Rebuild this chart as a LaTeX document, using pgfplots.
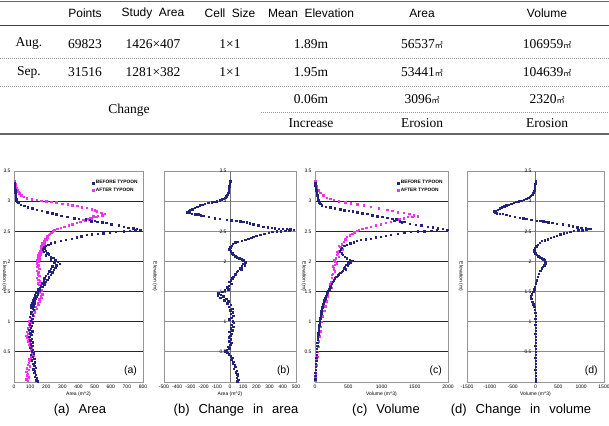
\documentclass[border=0pt]{standalone}
\usepackage{pgfplots}
\pgfplotsset{compat=1.18}
\usepackage{fontspec}
\setmainfont{Liberation Sans}
\newfontfamily\serifx{Liberation Serif}
\newfontfamily\cjk{Noto Sans CJK KR}
\definecolor{navyd}{RGB}{35,35,125}
\definecolor{magp}{RGB}{240,50,240}
\definecolor{framec}{RGB}{150,150,150}
\newcommand{\sqm}{{\cjk\fontsize{8}{8}\selectfont ㎡}}
\newcommand{\hd}{\fontsize{12}{14}\selectfont\spaceskip=6.5pt\relax}
\newcommand{\rw}{\serifx\fontsize{13.5}{15}\selectfont}
\newcommand{\cp}{\fontsize{13}{15}\selectfont\spaceskip=9pt\relax}
\newcommand{\tk}{\fontsize{5}{6}\selectfont}
\pgfplotsset{
  panel/.style={
    scale only axis, anchor=north west,
    ymin=0, ymax=3.5, ytick={0.5,1,1.5,2,2.5,3,3.5},
    axis line style={framec, line width=0.7pt},
    ymajorgrids, grid style={black!85, line width=0.8pt},
    major tick length=0pt,
    tick label style={font=\tk},
    label style={font=\tk},
    /pgf/number format/assume math mode=true,
    /pgf/number format/1000 sep={},
    scaled ticks=false,
    xlabel style={yshift=3pt},
    xticklabel style={yshift=1pt},
    ylabel={Elevation (m)},
    legend cell align=left,
    legend style={draw=none, fill=none, font=\fontsize{4.8}{5.5}\selectfont\bfseries, inner sep=0pt, row sep=-1.5pt},
  },
  bef/.style={only marks, mark=square*, mark size=0.72pt, mark options={draw=navyd, fill=navyd}, color=navyd},
  aft/.style={only marks, mark=square*, mark size=0.72pt, mark options={draw=magp, fill=magp}, color=magp},
}
\begin{document}
\begin{tikzpicture}
\path[use as bounding box] (0pt,0pt) rectangle (609pt,-425pt);
% ---------------- table ----------------
\draw[line width=1.6pt, black!60] (0pt,-1.5pt) -- (609pt,-1.5pt);
\draw[line width=0.8pt, black!75] (0pt,-25pt) -- (609pt,-25pt);
\draw[line width=0.6pt, black!40, dash pattern=on 1pt off 1pt] (0pt,-58pt) -- (609pt,-58pt);
\draw[line width=0.6pt, black!40, dash pattern=on 1pt off 1pt] (0pt,-86pt) -- (609pt,-86pt);
\draw[line width=0.6pt, black!40, dash pattern=on 1pt off 1pt] (261pt,-112pt) -- (609pt,-112pt);
\draw[line width=1.4pt, black!60] (0pt,-134pt) -- (609pt,-134pt);
\node[font=\hd] at (85pt,-13pt) {Points};
\node[font=\hd] at (153pt,-13pt) {Study Area};
\node[font=\hd] at (230pt,-13pt) {Cell Size};
\node[font=\hd] at (311pt,-13pt) {Mean Elevation};
\node[font=\hd] at (422pt,-13pt) {Area};
\node[font=\hd] at (547pt,-13pt) {Volume};
\node[font=\rw] at (29pt,-44pt) {Aug.};
\node[font=\rw] at (85pt,-44pt) {69823};
\node[font=\rw] at (153pt,-44pt) {1426×407};
\node[font=\rw] at (230pt,-44pt) {1×1};
\node[font=\rw] at (311pt,-44pt) {1.89m};
\node[font=\rw] at (422pt,-44pt) {56537\sqm};
\node[font=\rw] at (547pt,-44pt) {106959\sqm};
\node[font=\rw] at (29pt,-72pt) {Sep.};
\node[font=\rw] at (85pt,-72pt) {31516};
\node[font=\rw] at (153pt,-72pt) {1281×382};
\node[font=\rw] at (230pt,-72pt) {1×1};
\node[font=\rw] at (311pt,-72pt) {1.95m};
\node[font=\rw] at (422pt,-72pt) {53441\sqm};
\node[font=\rw] at (547pt,-72pt) {104639\sqm};
\node[font=\rw] at (129pt,-110pt) {Change};
\node[font=\rw] at (311pt,-99pt) {0.06m};
\node[font=\rw] at (422pt,-99pt) {3096\sqm};
\node[font=\rw] at (547pt,-99pt) {2320\sqm};
\node[font=\rw] at (311pt,-123pt) {Increase};
\node[font=\rw] at (422pt,-123pt) {Erosion};
\node[font=\rw] at (547pt,-123pt) {Erosion};
% ---------------- (a) ----------------
\begin{axis}[panel, at={(14pt,-171pt)}, width=129pt, height=211pt,
  xmin=0, xmax=800, xtick={0,100,200,300,400,500,600,700,800},
  xlabel={Area (m\^{}2)},
  ylabel style={at={(rel axis cs:-0.075,0.5)}, anchor=center, rotate=180},
  legend style={at={(0.975,0.965)}, anchor=north east}]
\addlegendimage{bef}\addlegendentry{BEFORE TYPOON}
\addlegendimage{aft}\addlegendentry{AFTER TYPOON}
\addplot[aft, forget plot] coordinates {(3,3.34)(6,3.31)(9,3.28)(12,3.25)(16,3.22)(20,3.19)(26,3.16)(33,3.13)(45,3.10)(60,3.07)(80,3.05)(110,3.03)(140,3.02)(170,3.01)(200,3.00)(230,2.99)(262,2.98)(300,2.96)(332,2.95)(360,2.93)(392,2.92)(420,2.90)(450,2.89)(482,2.87)(500,2.85)(512,2.83)(540,2.81)(562,2.79)(548,2.77)(520,2.76)(490,2.75)(510,2.74)(470,2.73)(482,2.72)(450,2.71)(462,2.70)(430,2.69)(442,2.68)(410,2.66)(388,2.64)(362,2.62)(340,2.60)(312,2.58)(290,2.56)(268,2.54)(250,2.52)(240,2.50)(230,2.48)(220,2.46)(214,2.44)(204,2.42)(210,2.40)(194,2.38)(200,2.36)(186,2.34)(190,2.32)(176,2.30)(186,2.28)(170,2.26)(180,2.24)(164,2.22)(174,2.20)(160,2.18)(170,2.16)(154,2.14)(164,2.12)(150,2.10)(160,2.08)(146,2.06)(156,2.04)(144,2.02)(150,2.00)(140,1.97)(150,1.94)(144,1.91)(156,1.88)(140,1.85)(150,1.82)(146,1.79)(156,1.76)(140,1.73)(150,1.70)(160,1.67)(146,1.64)(156,1.61)(166,1.58)(150,1.55)(170,1.52)(160,1.49)(176,1.46)(166,1.43)(170,1.40)(156,1.37)(160,1.34)(146,1.31)(150,1.28)(134,1.25)(140,1.22)(124,1.19)(130,1.16)(114,1.13)(120,1.10)(104,1.07)(110,1.04)(94,1.01)(100,0.98)(90,0.95)(96,0.92)(84,0.89)(90,0.86)(80,0.83)(86,0.80)(76,0.77)(80,0.74)(90,0.71)(84,0.68)(96,0.65)(90,0.62)(100,0.59)(110,0.56)(104,0.53)(116,0.50)(110,0.47)(120,0.44)(104,0.41)(94,0.38)(100,0.35)(90,0.32)(84,0.29)(96,0.26)(80,0.23)(90,0.20)(76,0.17)(86,0.14)(80,0.11)(90,0.08)(76,0.05)(86,0.02)};
\addplot[bef, forget plot] coordinates {(3,3.30)(4,3.27)(5,3.24)(6,3.21)(8,3.18)(7,3.15)(9,3.12)(12,3.09)(10,3.06)(15,3.03)(18,3.00)(26,2.97)(40,2.94)(62,2.92)(85,2.90)(112,2.88)(140,2.86)(172,2.84)(205,2.82)(238,2.80)(262,2.78)(292,2.76)(330,2.74)(372,2.72)(402,2.71)(445,2.70)(470,2.69)(500,2.68)(478,2.67)(515,2.66)(548,2.65)(572,2.64)(602,2.62)(648,2.60)(682,2.58)(708,2.56)(738,2.55)(762,2.54)(782,2.53)(752,2.52)(718,2.51)(682,2.50)(630,2.49)(592,2.48)(552,2.47)(518,2.46)(482,2.45)(452,2.44)(418,2.42)(388,2.40)(358,2.38)(322,2.36)(288,2.34)(252,2.32)(228,2.30)(212,2.28)(198,2.26)(186,2.24)(192,2.22)(178,2.20)(196,2.18)(184,2.16)(206,2.14)(216,2.12)(198,2.10)(226,2.08)(242,2.06)(228,2.04)(256,2.02)(272,2.00)(248,1.98)(282,1.96)(262,1.94)(238,1.92)(256,1.90)(228,1.88)(246,1.86)(218,1.84)(236,1.82)(208,1.80)(226,1.78)(198,1.76)(216,1.74)(188,1.72)(206,1.70)(184,1.68)(194,1.66)(174,1.64)(186,1.62)(164,1.60)(176,1.58)(158,1.56)(148,1.54)(160,1.52)(144,1.50)(134,1.48)(146,1.46)(128,1.44)(140,1.42)(124,1.40)(136,1.38)(118,1.36)(130,1.34)(114,1.32)(126,1.30)(108,1.28)(120,1.26)(104,1.24)(116,1.22)(122,1.20)(108,1.17)(102,1.14)(116,1.11)(98,1.08)(112,1.05)(104,1.02)(116,0.99)(98,0.96)(110,0.93)(104,0.90)(94,0.87)(112,0.84)(100,0.81)(106,0.78)(94,0.75)(110,0.72)(100,0.69)(116,0.66)(104,0.63)(112,0.60)(100,0.57)(116,0.54)(110,0.51)(122,0.48)(104,0.45)(116,0.42)(126,0.39)(110,0.36)(130,0.33)(120,0.30)(126,0.27)(136,0.24)(120,0.21)(130,0.18)(124,0.15)(136,0.12)(130,0.09)(142,0.06)(134,0.03)(146,0.01)};
\node[anchor=south east, font=\fontsize{10.5}{12}\selectfont] at (rel axis cs:0.98,0.012) {(a)};
\end{axis}
% ---------------- (b) ----------------
\begin{axis}[panel, at={(164pt,-171pt)}, width=132pt, height=211pt,
  xmin=-500, xmax=500, xtick={-500,-400,-300,-200,-100,0,100,200,300,400,500},
  xlabel={Area (m\^{}2)}, grid style={black!45, line width=0.8pt},
  yticklabel style={xshift=66pt},
  ylabel style={at={(rel axis cs:-0.068,0.5)}, anchor=center, rotate=180}]
\draw[black!55, line width=0.6pt] (axis cs:0,0) -- (axis cs:0,3.5);
\addplot[bef] coordinates {(0,3.33)(-3,3.29)(-5,3.25)(-8,3.21)(-10,3.17)(-15,3.14)(-20,3.11)(-30,3.08)(-38,3.06)(-50,3.045)(-63,3.03)(-80,3.015)(-101,3.00)(-120,2.99)(-139,2.98)(-165,2.97)(-190,2.96)(-210,2.945)(-228,2.93)(-248,2.91)(-266,2.89)(-285,2.87)(-304,2.85)(-315,2.835)(-324,2.82)(-305,2.805)(-291,2.79)(-265,2.785)(-240,2.78)(-220,2.77)(-203,2.76)(-160,2.74)(-114,2.72)(-76,2.71)(-25,2.69)(10,2.685)(46,2.68)(76,2.67)(100,2.66)(127,2.65)(150,2.635)(177,2.62)(215,2.60)(253,2.58)(285,2.57)(316,2.56)(340,2.55)(367,2.545)(400,2.54)(430,2.54)(455,2.535)(481,2.53)(450,2.52)(418,2.51)(385,2.505)(354,2.50)(320,2.49)(291,2.48)(260,2.46)(228,2.44)(200,2.425)(177,2.41)(160,2.395)(139,2.38)(115,2.36)(89,2.34)(60,2.33)(38,2.32)(22,2.29)(13,2.26)(0,2.235)(-5,2.21)(-8,2.19)(5,2.17)(15,2.14)(25,2.11)(38,2.09)(51,2.07)(70,2.055)(89,2.04)(100,2.02)(114,2.00)(120,1.98)(101,1.96)(110,1.94)(90,1.92)(76,1.89)(85,1.87)(60,1.85)(51,1.83)(40,1.80)(38,1.78)(25,1.75)(15,1.72)(5,1.69)(-5,1.66)(10,1.63)(-10,1.60)(-20,1.57)(-15,1.54)(-40,1.52)(-60,1.50)(-89,1.47)(-70,1.45)(-95,1.44)(-50,1.42)(-75,1.40)(-30,1.38)(-45,1.36)(-13,1.34)(-20,1.31)(5,1.28)(-10,1.25)(15,1.22)(0,1.19)(20,1.16)(5,1.13)(25,1.10)(10,1.07)(-5,1.04)(20,1.01)(30,0.98)(10,0.95)(25,0.92)(5,0.89)(15,0.86)(-5,0.83)(10,0.80)(0,0.77)(-10,0.74)(5,0.71)(-5,0.68)(10,0.65)(0,0.62)(-15,0.59)(-5,0.56)(-25,0.53)(-38,0.51)(-20,0.49)(-10,0.46)(5,0.43)(15,0.40)(10,0.37)(25,0.34)(20,0.31)(35,0.28)(40,0.25)(30,0.22)(50,0.19)(45,0.16)(55,0.13)(60,0.10)(50,0.07)(63,0.04)(56,0.01)};
\node[anchor=south east, font=\fontsize{10.5}{12}\selectfont] at (rel axis cs:0.98,0.012) {(b)};
\end{axis}
% ---------------- (c) ----------------
\begin{axis}[panel, at={(315pt,-171pt)}, width=133pt, height=211pt,
  xmin=0, xmax=2000, xtick={0,500,1000,1500,2000},
  xlabel={Volume (m\^{}3)},
  ylabel style={at={(rel axis cs:-0.083,0.5)}, anchor=center, rotate=180},
  legend style={at={(0.975,0.965)}, anchor=north east}]
\addlegendimage{bef}\addlegendentry{BEFORE TYPOON}
\addlegendimage{aft}\addlegendentry{AFTER TYPOON}
\addplot[aft, forget plot] coordinates {(0,3.34)(8,3.30)(15,3.26)(25,3.22)(45,3.18)(76,3.14)(120,3.10)(177,3.06)(230,3.04)(278,3.02)(360,3.00)(455,2.98)(540,2.965)(632,2.95)(730,2.93)(835,2.91)(960,2.885)(1088,2.86)(1160,2.84)(1240,2.82)(1330,2.805)(1417,2.79)(1480,2.77)(1543,2.75)(1460,2.745)(1392,2.74)(1330,2.72)(1265,2.70)(1200,2.68)(1139,2.66)(1060,2.64)(987,2.62)(910,2.60)(835,2.58)(770,2.56)(708,2.54)(660,2.525)(632,2.51)(590,2.485)(557,2.46)(520,2.435)(480,2.41)(455,2.37)(430,2.33)(405,2.285)(360,2.26)(380,2.24)(420,2.20)(355,2.18)(330,2.16)(340,2.14)(329,2.11)(360,2.08)(315,2.05)(290,2.02)(304,2.00)(330,1.97)(295,1.95)(270,1.92)(285,1.90)(278,1.86)(300,1.84)(265,1.80)(250,1.78)(253,1.73)(280,1.70)(240,1.66)(220,1.62)(228,1.59)(250,1.56)(210,1.52)(195,1.46)(187,1.42)(170,1.34)(152,1.26)(135,1.18)(116,1.09)(100,1.00)(86,0.92)(76,0.84)(66,0.76)(58,0.68)(50,0.59)(40,0.50)(32,0.42)(25,0.37)(18,0.28)(12,0.20)(8,0.14)(4,0.08)(1,0.03)};
\addplot[bef, forget plot] coordinates {(0,3.30)(5,3.26)(10,3.22)(15,3.18)(22,3.14)(30,3.10)(40,3.06)(50,3.02)(65,2.98)(80,2.96)(100,2.93)(160,2.91)(228,2.90)(300,2.88)(380,2.87)(440,2.85)(506,2.84)(570,2.83)(632,2.82)(710,2.80)(784,2.79)(860,2.77)(936,2.75)(1010,2.74)(1088,2.73)(1160,2.71)(1220,2.70)(1190,2.68)(1270,2.67)(1340,2.66)(1300,2.65)(1420,2.63)(1518,2.61)(1600,2.60)(1695,2.58)(1770,2.57)(1847,2.55)(1920,2.54)(1989,2.53)(1830,2.52)(1746,2.51)(1640,2.505)(1543,2.50)(1440,2.49)(1341,2.48)(1240,2.46)(1139,2.44)(1060,2.43)(987,2.41)(910,2.40)(835,2.38)(760,2.37)(683,2.36)(630,2.34)(582,2.32)(530,2.30)(480,2.28)(440,2.26)(405,2.23)(390,2.20)(375,2.17)(400,2.14)(420,2.11)(450,2.08)(480,2.05)(520,2.03)(560,2.01)(540,1.99)(500,1.97)(470,1.95)(490,1.93)(450,1.91)(430,1.89)(460,1.87)(420,1.85)(400,1.83)(380,1.81)(360,1.79)(340,1.77)(320,1.75)(300,1.72)(280,1.69)(265,1.66)(250,1.63)(240,1.60)(228,1.57)(215,1.54)(200,1.51)(185,1.48)(172,1.45)(160,1.42)(152,1.39)(140,1.36)(132,1.33)(126,1.30)(118,1.27)(110,1.24)(104,1.21)(96,1.18)(90,1.14)(84,1.10)(78,1.06)(72,1.02)(68,0.98)(62,0.94)(58,0.90)(54,0.86)(50,0.82)(46,0.78)(42,0.74)(40,0.70)(36,0.65)(32,0.60)(28,0.55)(25,0.50)(22,0.45)(18,0.40)(15,0.35)(12,0.30)(10,0.25)(8,0.20)(5,0.15)(3,0.10)(1,0.05)};
\node[anchor=south east, font=\fontsize{10.5}{12}\selectfont] at (rel axis cs:0.98,0.012) {(c)};
\end{axis}
% ---------------- (d) ----------------
\begin{axis}[panel, at={(467pt,-171pt)}, width=137pt, height=211pt,
  xmin=-1500, xmax=1500, xtick={-1500,-1000,-500,0,500,1000,1500},
  xlabel={Volume (m\^{}3)}, grid style={black!45, line width=0.8pt},
  yticklabel style={xshift=68pt},
  ylabel style={at={(rel axis cs:-0.045,0.5)}, anchor=center, rotate=180}]
\draw[black!55, line width=0.6pt] (axis cs:0,0) -- (axis cs:0,3.5);
\addplot[bef] coordinates {(0,3.33)(-5,3.29)(-15,3.25)(-22,3.21)(-30,3.17)(-50,3.14)(-74,3.11)(-100,3.09)(-126,3.07)(-160,3.055)(-200,3.04)(-255,3.025)(-311,3.01)(-365,3.00)(-422,2.99)(-480,2.975)(-533,2.96)(-590,2.945)(-644,2.93)(-690,2.915)(-741,2.90)(-790,2.88)(-830,2.86)(-875,2.845)(-919,2.83)(-880,2.815)(-844,2.80)(-780,2.795)(-719,2.79)(-640,2.775)(-570,2.76)(-460,2.745)(-348,2.73)(-270,2.72)(-200,2.71)(-90,2.695)(22,2.68)(100,2.675)(170,2.67)(230,2.66)(281,2.65)(370,2.64)(467,2.63)(600,2.615)(726,2.60)(820,2.585)(911,2.57)(1000,2.56)(1096,2.55)(1150,2.545)(1207,2.54)(1110,2.53)(1022,2.52)(930,2.515)(837,2.51)(760,2.495)(689,2.48)(615,2.465)(541,2.45)(470,2.43)(393,2.41)(330,2.39)(267,2.37)(200,2.355)(133,2.34)(90,2.31)(44,2.28)(15,2.25)(-15,2.22)(-25,2.195)(-30,2.17)(-5,2.14)(22,2.11)(60,2.09)(96,2.07)(135,2.055)(170,2.04)(200,2.02)(222,2.00)(210,1.97)(193,1.94)(160,1.915)(133,1.89)(100,1.85)(74,1.80)(50,1.75)(22,1.69)(5,1.64)(-15,1.58)(-30,1.54)(-52,1.50)(-80,1.46)(-104,1.42)(-90,1.38)(-74,1.33)(-50,1.29)(-30,1.25)(-15,1.20)(-5,1.15)(0,1.10)(-10,1.05)(5,1.00)(-5,0.95)(0,0.90)(5,0.85)(-5,0.80)(0,0.75)(5,0.70)(0,0.65)(-5,0.60)(0,0.55)(5,0.50)(0,0.45)(-5,0.40)(0,0.35)(5,0.30)(0,0.25)(-5,0.20)(0,0.15)(5,0.10)(0,0.05)(0,0.01)};
\node[anchor=south east, font=\fontsize{10.5}{12}\selectfont] at (rel axis cs:0.98,0.012) {(d)};
\end{axis}
% ---------------- captions ----------------
\node[font=\cp] at (80pt,-410pt) {(a) Area};
\node[font=\cp] at (236pt,-410pt) {(b) Change in area};
\node[font=\cp] at (386pt,-410pt) {(c) Volume};
\node[font=\cp] at (521pt,-410pt) {(d) Change in volume};
\end{tikzpicture}
\end{document}
